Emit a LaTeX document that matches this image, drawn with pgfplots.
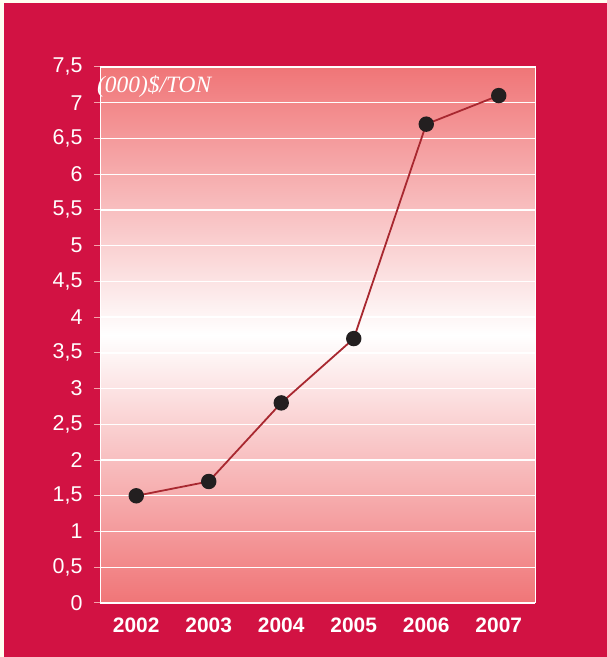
\documentclass[border=0pt]{standalone}
\usepackage{fontspec}
\setmainfont{Liberation Sans}
\newfontfamily\timesit{Liberation Serif}
\usepackage{pgfplots}
\pgfplotsset{compat=1.18}
\definecolor{crimson}{HTML}{D21243}
\definecolor{plotpink}{HTML}{F07577}
\definecolor{linered}{HTML}{A82830}
\definecolor{markblack}{HTML}{231F20}
\definecolor{tickpink}{HTML}{F4A3AC}
\begin{document}
\begin{tikzpicture}[x=1bp,y=1bp]
\fill[yellow!6] (0,0) rectangle (607,657);
\fill[crimson] (4,0) rectangle (607,654);
\begin{axis}[
  at={(100bp,54bp)}, anchor=south west,
  scale only axis, width=435bp, height=536bp,
  xmin=0, xmax=6, ymin=0, ymax=7.5,
  clip=false,
  axis background/.style={shade, top color=plotpink, bottom color=plotpink, middle color=white},
  axis line style={white, line width=1bp},
  tick pos=left,
  xtick={0.5,1.5,2.5,3.5,4.5,5.5},
  xticklabels={2002,2003,2004,2005,2006,2007},
  xtick style={draw=none},
  minor xtick={0,1,...,6},
  minor x tick style={tickpink, line width=1bp},
  ytick={0,0.5,...,7.5},
  ytick style={tickpink, line width=1bp},
  tick align=outside,
  major tick length=6bp, minor tick length=6bp,
  ymajorgrids, grid style={white, line width=1.3bp},
  /pgf/number format/.cd, use comma, fixed, assume math mode=true,
  /pgfplots/.cd,
  yticklabel style={white, font=\fontsize{21.5}{21.5}\selectfont, xshift=-8bp},
  xticklabel style={white, font=\bfseries\fontsize{21}{21}\selectfont, yshift=-5bp},
]
\addplot[linered, line width=1.8bp, mark=*, mark size=6.8bp,
  mark options={fill=markblack, draw=markblack}]
  coordinates {(0.5,1.5) (1.5,1.7) (2.5,2.8) (3.5,3.7) (4.5,6.7) (5.5,7.1)};
\node[anchor=base west, white, inner sep=0, font=\timesit\itshape\fontsize{23.5}{23.5}\selectfont]
  at (rel axis cs:-0.007,0.953) {(000)\$/TON};
\end{axis}
\end{tikzpicture}
\end{document}
